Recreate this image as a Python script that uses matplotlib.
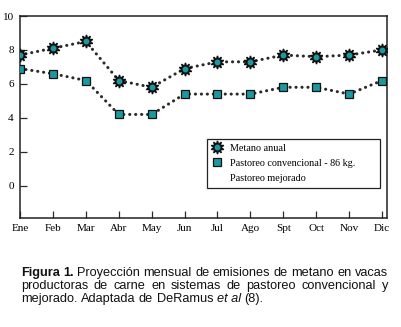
import matplotlib
matplotlib.use("Agg")
import matplotlib.pyplot as plt
from matplotlib.lines import Line2D

months = ["Ene", "Feb", "Mar", "Abr", "May", "Jun", "Jul", "Ago", "Spt", "Oct", "Nov", "Dic"]
metano = [7.7, 8.1, 8.5, 6.2, 5.8, 6.9, 7.3, 7.3, 7.7, 7.6, 7.7, 8.0]
pastoreo = [6.9, 6.6, 6.2, 4.2, 4.2, 5.4, 5.4, 5.4, 5.8, 5.8, 5.4, 6.2]
yticks = [0, 2, 4, 6, 8, 10]
legend_labels = ["Metano anual", "Pastoreo convencional - 86 kg.", "Pastoreo mejorado"]

teal = "#1a9aa0"
dark = "#2a2a2a"
serif = ["Liberation Serif", "DejaVu Serif"]

fig = plt.figure(figsize=(4.02, 3.27), dpi=100)
ax = fig.add_axes([20/402, 1-218/327, (387-20)/402, (218-16)/327])
x = list(range(len(months)))

dot = dict(color=dark, lw=2.2, linestyle=(0, (0.05, 1.9)), dash_capstyle="round", zorder=2)
ax.plot(x, metano, **dot)
ax.plot(x, pastoreo, **dot)
ax.plot(x, metano, linestyle="none", marker=(10, 1, 0), ms=9.5, mfc="#111111", mec="#111111", zorder=3)
ax.plot(x, metano, linestyle="none", marker="o", ms=3.2, mfc=teal, mec=teal, zorder=4)
ax.plot(x, pastoreo, linestyle="none", marker="s", ms=6.2, mfc=teal, mec="#111111", mew=0.9, zorder=4)

ax.set_xlim(0, 11.15)
ax.set_ylim(-1.9, 10)
ax.set_yticks(yticks)
ax.set_xticks(x)
ax.set_xticklabels(months, family=serif, fontsize=8)
ax.set_yticklabels([str(v) for v in yticks], family=serif, fontsize=8)
ax.tick_params(direction="in", length=5, width=0.9, color=dark, pad=4.5)
for s in ax.spines.values():
    s.set_linewidth(1.1)
    s.set_color("#222222")

h1 = Line2D([], [], linestyle="none", marker=(10, 1, 0), ms=9.5, mfc="#111111", mec="#111111")
h1b = Line2D([], [], linestyle="none", marker="o", ms=3.2, mfc=teal, mec=teal)
h2 = Line2D([], [], linestyle="none", marker="s", ms=6, mfc=teal, mec="#111111", mew=0.9)
h3 = Line2D([], [], linestyle="none")
ax_w, ax_h = 367, 202
leg = ax.legend([(h1, h1b), h2, h3], legend_labels, loc="upper left",
                bbox_to_anchor=((207-20)/ax_w, (218-187)/ax_h, (380-207)/ax_w, (187-139)/ax_h),
                mode="expand", fancybox=False, framealpha=1,
                edgecolor="#222222", prop={"family": serif, "size": 7.3},
                handlelength=1.0, handletextpad=0.8, borderpad=0.45, labelspacing=0.62,
                borderaxespad=0)
leg.get_frame().set_linewidth(0.9)

# caption with justified lines
cap_lines = [
    [("Figura", "bold", "normal"), ("1.", "bold", "normal"), ("Proyección", "normal", "normal"),
     ("mensual", "normal", "normal"), ("de", "normal", "normal"), ("emisiones", "normal", "normal"),
     ("de", "normal", "normal"), ("metano", "normal", "normal"), ("en", "normal", "normal"),
     ("vacas", "normal", "normal")],
    [("productoras", "normal", "normal"), ("de", "normal", "normal"), ("carne", "normal", "normal"),
     ("en", "normal", "normal"), ("sistemas", "normal", "normal"), ("de", "normal", "normal"),
     ("pastoreo", "normal", "normal"), ("convencional", "normal", "normal"), ("y", "normal", "normal")],
    [("mejorado.", "normal", "normal"), ("Adaptada", "normal", "normal"), ("de", "normal", "normal"),
     ("DeRamus", "normal", "normal"), ("et al", "normal", "italic"), ("(8).", "normal", "normal")],
]
fs = 9.2
x0, x1 = 21, 388
ys = [273, 286, 299]
fig.canvas.draw()
renderer = fig.canvas.get_renderer()
sp = fig.text(0, 0, "a b", fontsize=fs, family="Liberation Sans")
sp2 = fig.text(0, 0, "ab", fontsize=fs, family="Liberation Sans")
space_w = sp.get_window_extent(renderer).width - sp2.get_window_extent(renderer).width
sp.remove(); sp2.remove()
for li, (words, yp) in enumerate(zip(cap_lines, ys)):
    texts = []
    for w, wt, st in words:
        t = fig.text(0, 1 - yp/327, w, fontsize=fs, family="Liberation Sans", weight=wt, style=st,
                     va="center", ha="left", color="#111111")
        texts.append(t)
    widths = [t.get_window_extent(renderer).width for t in texts]
    if li < 2:
        gap = (x1 - x0 - sum(widths)) / (len(words) - 1)
    else:
        gap = space_w
    xp = x0
    for t, w in zip(texts, widths):
        t.set_x(xp/402)
        xp += w + gap

fig.savefig("out.png", dpi=100, facecolor="white")
